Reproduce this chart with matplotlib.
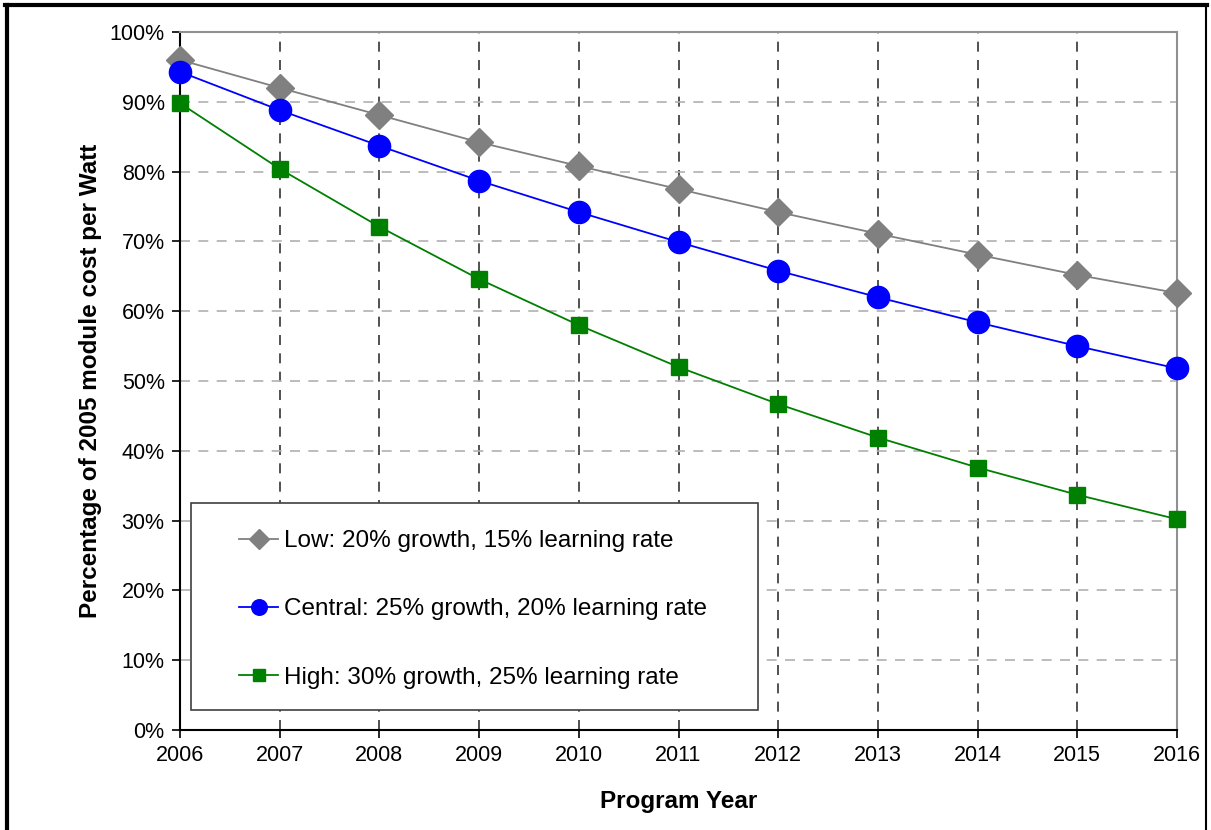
import matplotlib.pyplot as plt
from matplotlib.lines import Line2D
from matplotlib.patches import Rectangle
from matplotlib.ticker import FuncFormatter
import numpy as np

plt.rcParams['font.family'] = ['Liberation Sans', 'DejaVu Sans']

years = [2006, 2007, 2008, 2009, 2010, 2011, 2012, 2013, 2014, 2015, 2016]
low = [96.0, 92.0, 88.1, 84.2, 80.8, 77.5, 74.2, 71.1, 68.1, 65.2, 62.6]
central = [94.3, 88.8, 83.7, 78.7, 74.2, 69.9, 65.8, 62.0, 58.4, 55.0, 51.8]
high = [89.8, 80.4, 72.1, 64.6, 58.0, 52.0, 46.7, 41.9, 37.6, 33.7, 30.2]

labels = ['Low: 20% growth, 15% learning rate',
          'Central: 25% growth, 20% learning rate',
          'High: 30% growth, 25% learning rate']

fig = plt.figure(figsize=(12.11, 8.3), dpi=100)
ax = fig.add_axes([180/1211, 1-730/830, 997/1211, 698/830])

ax.plot(years, low, color='#808080', lw=1.3, marker='D', ms=14,
        mec='#808080', mfc='#808080', label=labels[0], clip_on=False, zorder=5)
ax.plot(years, central, color='#0000ff', lw=1.3, marker='o', ms=16,
        mec='#0000ff', mfc='#0000ff', label=labels[1], clip_on=False, zorder=5)
ax.plot(years, high, color='#008000', lw=1.3, marker='s', ms=11.5,
        mec='#008000', mfc='#008000', label=labels[2], clip_on=False, zorder=5)

ax.set_xlim(2006, 2016)
ax.set_ylim(0, 100)
ax.set_xticks(years)
ax.set_yticks(np.arange(0, 101, 10))
ax.yaxis.set_major_formatter(FuncFormatter(lambda v, p: '%d%%' % v))

# grid: dark dashed verticals, light dashed horizontals
for yr in years[1:-1]:
    ax.axvline(yr, color='#333333', lw=1.2, ls=(0, (6, 5)), zorder=1)
for v in range(10, 100, 10):
    ax.axhline(v, color='#b0b0b0', lw=1.2, ls=(0, (6, 5)), zorder=1)

ax.spines['left'].set_color('black')
ax.spines['bottom'].set_color('black')
ax.spines['left'].set_linewidth(1.5)
ax.spines['bottom'].set_linewidth(1.5)
ax.spines['top'].set_color('#909090')
ax.spines['right'].set_color('#909090')
ax.spines['top'].set_linewidth(1.5)
ax.spines['right'].set_linewidth(1.5)

ax.tick_params(direction='out', length=6, width=1.2, labelsize=15.5, pad=5)

ax.set_xlabel('Program Year', fontsize=17.5, fontweight='bold', labelpad=17)
ax.set_ylabel('Percentage of 2005 module cost per Watt', fontsize=17.5,
              fontweight='bold', labelpad=5.5)

# legend box drawn separately so the entries can sit inset from it
ax.add_patch(Rectangle((0.011, 0.0287), 0.5687, 0.2966, transform=ax.transAxes,
                       facecolor='white', edgecolor='#404040', lw=1.2, zorder=6))
leg = ax.legend(loc='upper left', bbox_to_anchor=(0.0351, 0.321),
                borderaxespad=0, fontsize=17.5, markerscale=0.7,
                labelspacing=1.9, handlelength=1.6, handletextpad=0.25,
                borderpad=1.0, frameon=False)
leg.set_zorder(7)

# outer frame of the picture
fig.add_artist(Line2D([7/1211, 7/1211], [0, 1-5/830], color='black', lw=3,
                      transform=fig.transFigure))
fig.add_artist(Line2D([5/1211, 1207/1211], [1-5/830, 1-5/830], color='black', lw=3,
                      transform=fig.transFigure))
fig.add_artist(Line2D([1206/1211, 1206/1211], [0, 1-5/830], color='black', lw=1.5,
                      transform=fig.transFigure))

fig.savefig('out.png', dpi=100)
